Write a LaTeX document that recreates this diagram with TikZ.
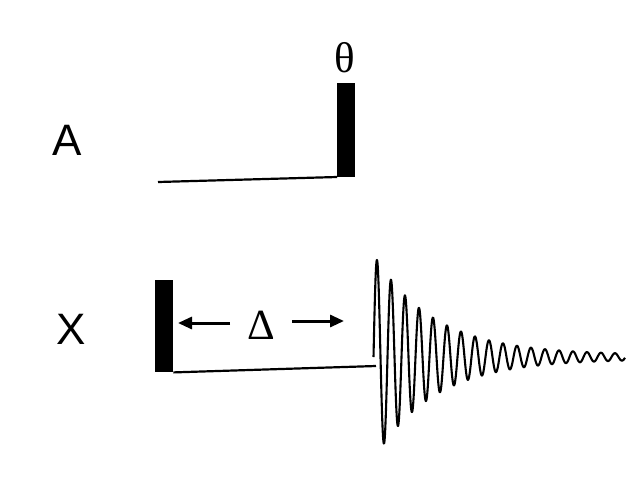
\documentclass[tikz,border=0pt]{standalone}
\usepackage{fontspec}
\setmainfont{Liberation Serif}
\newfontfamily\arialf{Liberation Sans}
\usetikzlibrary{arrows.meta}
\begin{document}
\begin{tikzpicture}[x=1pt,y=-1pt,
  lbl/.style={font=\arialf\fontsize{44}{44}\selectfont, inner sep=0pt},
  greek/.style={font=\fontsize{43}{43}\selectfont, inner sep=0pt},
  pulse/.style={fill=black, draw=none, minimum width=18pt, inner sep=0pt},
  base/.style={line width=2.2pt},
  dist/.style={line width=3pt, -{Triangle[length=14pt,width=12pt]}}]
\useasboundingbox (0,0) rectangle (644,488);
% labels
\node[lbl] (A) at (67,140) {A};
\node[lbl] (X) at (71,329) {X};
% channel A
\coordinate (astart) at (158,182);
\node[pulse, minimum height=94pt, anchor=south west] (pa) at (337,177) {};
\draw[base] (astart) -- (pa.south west);
\node[greek] (theta) at (345,58) {θ};
% channel X
\node[pulse, minimum height=92pt, anchor=north west] (px) at (155,280) {};
\coordinate (fidstart) at (376,366);
\draw[base] (px.south east) -- (fidstart);
\node[greek] (delta) at (261,325) {Δ};
\coordinate (lt) at (178,323);
\coordinate (rt) at (344,321);
\draw[dist] (230,323) -- (lt);
\draw[dist] (292,321) -- (rt);
% FID
\draw[line width=2.1pt, line join=round] plot[domain=0:251.5, samples=1100]
  ({373.5+\x}, {357 - (95*exp(-(\x-3.5)/60)+2)*sin(mod(\x,14)/14*360)});
\end{tikzpicture}
\end{document}
